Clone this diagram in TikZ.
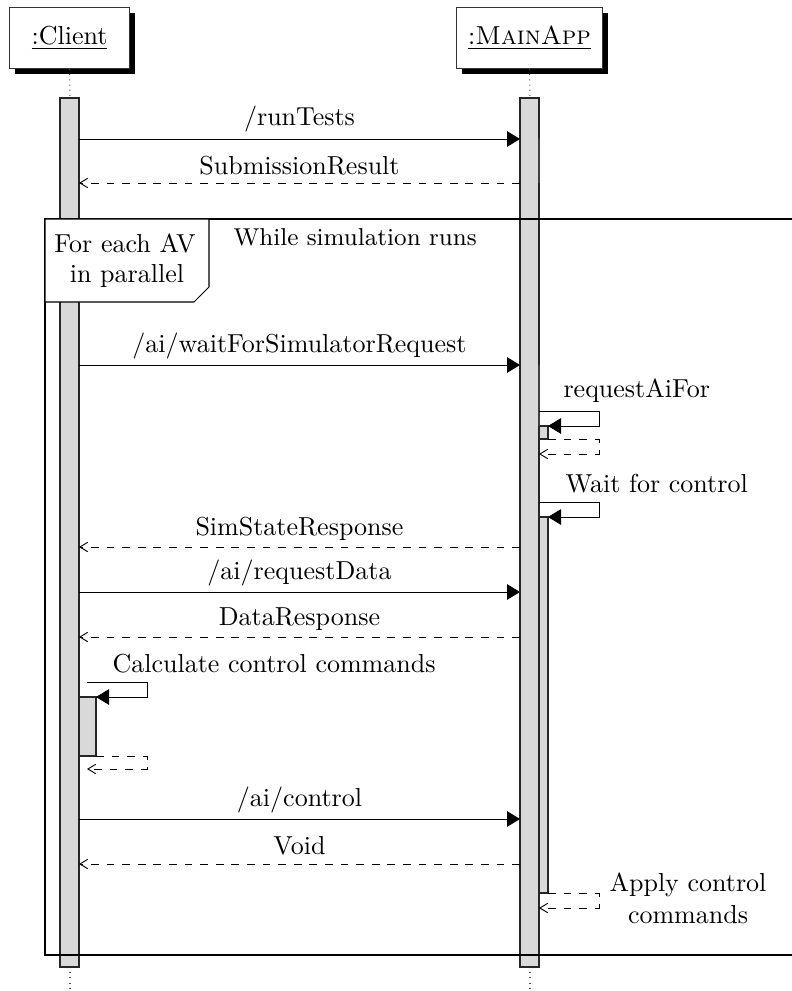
\documentclass[tikz,border=0pt]{standalone}
\usetikzlibrary{arrows.meta,shadows}
\begin{document}
\begin{tikzpicture}[x=0.3846pt,y=-0.3846pt,
  head/.style={draw=black!80, fill=white, line width=0.4pt, inner sep=0pt,
    minimum height=23.4pt,
    drop shadow={shadow xshift=2.1pt, shadow yshift=-2pt, fill=black, opacity=1}},
  life/.style={draw=black!70, line width=0.4pt, dash pattern=on 0.4pt off 1.6pt},
  bar/.style={draw=black!85, fill=gray!30, line width=0.4pt},
  msg/.style={draw, line width=0.35pt, -{Triangle[length=5pt,width=6pt]}},
  ret/.style={draw, dashed, line width=0.35pt, -{Straight Barb[length=3pt,width=3.6pt]}},
  lbl/.style={anchor=base, inner sep=0pt},
  slbl/.style={anchor=base west, inner sep=0pt},
  thinedge/.style={draw=black!75, line width=0.4pt}]
\useasboundingbox (0,0) rectangle (792,991);
\clip (0,0) rectangle (792,991);

% participants
\node[head, minimum width=46.5pt] (client) at (69.5,38) {\underline{:Client}};
\node[head, minimum width=55.8pt] (mainapp) at (529.5,38) {\underline{:\textsc{MainApp}}};

% lifelines
\coordinate (cTop) at (70,98);   \coordinate (cEnd) at (70,991);
\coordinate (mTop) at (530,98);  \coordinate (mEnd) at (530,991);
\draw[life] (client.south) -- (cTop);
\draw[life] (mainapp.south) -- (mTop);
\draw[life] (70,967) -- (cEnd);
\draw[life] (530,967) -- (mEnd);

% activation bars
\draw[bar] (60,98) rectangle (79,967);
\draw[bar] (520,98) rectangle (539,967);
\draw[bar] (539,426) rectangle (548,439);
\draw[bar] (539,517) rectangle (548,893);
\draw[bar] (79,697) rectangle (96,756);
\draw[thinedge] (539,139) -- (539,183);
\draw[thinedge] (539,365) -- (539,426);

% calls and returns between the participants
\coordinate (c1) at (79,139); \coordinate (m1) at (520,139);
\draw[msg] (c1) -- (m1) node[lbl, midway, yshift=5pt] {/runTests};
\coordinate (c2) at (79,183); \coordinate (m2) at (520,183);
\draw[ret] (m2) -- (c2) node[lbl, midway, yshift=3.4pt] {SubmissionResult};

\coordinate (c3) at (79,365); \coordinate (m3) at (520,365);
\draw[msg] (c3) -- (m3) node[lbl, midway, yshift=5pt] {/ai/waitForSimulatorRequest};

% requestAiFor (self call on MainApp)
\coordinate (ra0) at (539,411); \coordinate (ra1) at (599,411);
\coordinate (ra2) at (599,426); \coordinate (ra3) at (548,426);
\draw[msg] (ra0) -- (ra1) -- (ra2) -- (ra3);
\node[slbl] (raL) at (563,397) {requestAiFor};
\coordinate (rr0) at (548,439); \coordinate (rr1) at (599,439);
\coordinate (rr2) at (599,454); \coordinate (rr3) at (539,454);
\draw[ret] (rr0) -- (rr1) -- (rr2) -- (rr3);

% Wait for control (self call on MainApp)
\coordinate (wc0) at (539,502); \coordinate (wc1) at (599,502);
\coordinate (wc2) at (599,517); \coordinate (wc3) at (548,517);
\draw[msg] (wc0) -- (wc1) -- (wc2) -- (wc3);
\node[slbl] (wcL) at (565,492) {Wait for control};

\coordinate (c4) at (79,547); \coordinate (m4) at (520,547);
\draw[ret] (m4) -- (c4) node[lbl, midway, yshift=4.6pt] {SimStateResponse};
\coordinate (c5) at (79,592); \coordinate (m5) at (520,592);
\draw[msg] (c5) -- (m5) node[lbl, midway, yshift=5pt] {/ai/requestData};
\coordinate (c6) at (79,637); \coordinate (m6) at (520,637);
\draw[ret] (m6) -- (c6) node[lbl, midway, yshift=4.6pt] {DataResponse};

% Calculate control commands (self call on Client)
\coordinate (cc0) at (87,682); \coordinate (cc1) at (147,682);
\coordinate (cc2) at (147,697); \coordinate (cc3) at (96,697);
\draw[msg] (cc0) -- (cc1) -- (cc2) -- (cc3);
\node[slbl] (ccL) at (112,672) {Calculate control commands};
\coordinate (cr0) at (96,756); \coordinate (cr1) at (147,756);
\coordinate (cr2) at (147,769); \coordinate (cr3) at (87,769);
\draw[ret] (cr0) -- (cr1) -- (cr2) -- (cr3);

\coordinate (c7) at (79,819); \coordinate (m7) at (520,819);
\draw[msg] (c7) -- (m7) node[lbl, midway, yshift=5pt] {/ai/control};
\coordinate (c8) at (79,864); \coordinate (m8) at (520,864);
\draw[ret] (m8) -- (c8) node[lbl, midway, yshift=3.5pt] {Void};

% Apply control commands (return on MainApp)
\coordinate (ap0) at (548,893); \coordinate (ap1) at (599,893);
\coordinate (ap2) at (599,908); \coordinate (ap3) at (539,908);
\draw[ret] (ap0) -- (ap1) -- (ap2) -- (ap3);
\node[anchor=base, inner sep=0pt] (apL1) at (688,891) {Apply control};
\node[anchor=base, inner sep=0pt] (apL2) at (688,923) {commands};

% combined fragment
\draw[line width=0.4pt] (800,219) -- (45,219) -- (45,955) -- (800,955);
\draw[line width=0.4pt, fill=white] (45,219) -- (209,219) -- (209,287) -- (194,302) -- (45,302) -- cycle;
\node[anchor=base, inner sep=0pt] (fa) at (125,252) {For each AV};
\node[anchor=base, inner sep=0pt] (fb) at (127,282) {in parallel};
\node[slbl, font=\fontsize{9.4}{11}\selectfont] (wl) at (233,245) {While simulation runs};
\end{tikzpicture}
\end{document}
